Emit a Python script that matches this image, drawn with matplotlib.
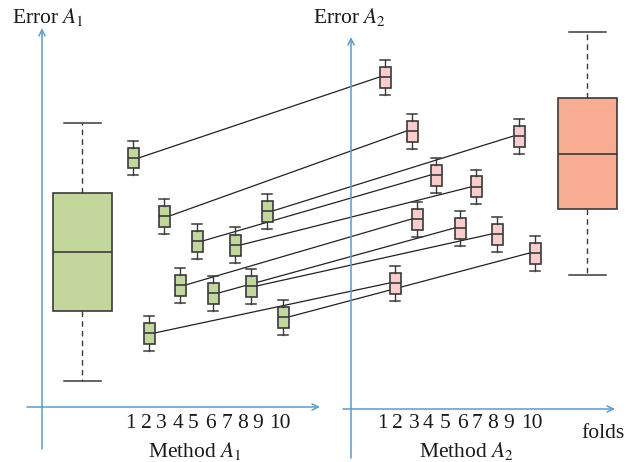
import matplotlib
matplotlib.use("Agg")
import matplotlib.pyplot as plt

plt.rcParams['font.family'] = ['Liberation Serif', 'DejaVu Serif']
plt.rcParams['mathtext.fontset'] = 'stix'

# ---------------- data ----------------
fold_labels = ['1', '2', '3', '4', '5', '6', '7', '8', '9', '10']
# x positions of the per-fold boxes (method A1 panel and method A2 panel)
a1_pos = [133, 149, 164, 180, 197, 213, 235, 251, 267, 283]
a2_pos = [385, 395, 412, 417, 436, 460, 476, 497, 519, 535]
# x positions of the fold tick labels
a1_label_pos = [130, 146, 161, 178, 193, 210, 227, 243, 258, 280]
a2_label_pos = [382, 397, 414, 428, 445, 462, 477, 493, 509, 532]
# per-fold median errors
a1_median = [2.49, 0.74, 1.91, 1.22, 1.66, 1.14, 1.62, 1.21, 1.96, 0.90]
a2_median = [3.30, 1.24, 2.76, 1.88, 2.32, 1.79, 2.20, 1.73, 2.71, 1.54]
# per-fold spread (half box height, half whisker span)
fold_box_half = 0.105
fold_whisker_half = 0.175
# aggregate boxplots over all folds
a1_summary = dict(whislo=0.26, q1=0.96, med=1.55, q3=2.14, whishi=2.84)
a2_summary = dict(whislo=1.32, q1=1.98, med=2.53, q3=3.09, whishi=3.75)
a1_summary_pos = 82
a2_summary_pos = 587

# ---------------- figure ----------------
W, H = 631, 462
fig = plt.figure(figsize=(W / 100, H / 100), dpi=100)
ax = fig.add_axes([0, 0, 1, 1])
ax.set_xlim(0, W)
ax.set_ylim((407 - H) / 100, 407 / 100)
ax.axis('off')


def py(ypix):
    return (407 - ypix) / 100


def fold_stats(meds):
    return [dict(med=m, q1=m - fold_box_half, q3=m + fold_box_half,
                 whislo=m - fold_whisker_half, whishi=m + fold_whisker_half,
                 fliers=[]) for m in meds]


edge = '#3a3a3a'
green = '#c3d69b'
pink_small = '#f9cdcc'
pink_big = '#f8ad92'
blue = '#5b9bd5'

# connecting lines
for x1, m1, x2, m2 in zip(a1_pos, a1_median, a2_pos, a2_median):
    ax.plot([x1 + 5.5, x2 - 5.5], [m1, m2], color='#222222', lw=0.9, zorder=2)


def draw(stats, pos, width, capw, face, dashed):
    ax.bxp(stats, positions=pos, widths=width, capwidths=capw,
           showfliers=False, patch_artist=True, manage_ticks=False,
           boxprops=dict(facecolor=face, edgecolor=edge, linewidth=1.2),
           medianprops=dict(color=edge, linewidth=1.2),
           whiskerprops=dict(color=edge, linewidth=1.0,
                             linestyle=(0, (4, 3)) if dashed else '-'),
           capprops=dict(color=edge, linewidth=1.1), zorder=3)


draw(fold_stats(a1_median), a1_pos, 11, 10, green, False)
draw(fold_stats(a2_median), a2_pos, 11, 10, pink_small, False)
draw([dict(a1_summary, fliers=[])], [a1_summary_pos], 59, 37, green, True)
draw([dict(a2_summary, fliers=[])], [a2_summary_pos], 59, 37, pink_big, True)

# axes arrows
arr = dict(arrowstyle='->,head_length=0.45,head_width=0.22', color=blue,
           lw=1.1, shrinkA=0, shrinkB=0)
ax.annotate('', xy=(42, py(28)), xytext=(42, py(449)), arrowprops=arr)
ax.annotate('', xy=(320, py(407)), xytext=(27, py(407)), arrowprops=arr)
ax.annotate('', xy=(351, py(37)), xytext=(351, py(458)), arrowprops=arr)
ax.annotate('', xy=(615, py(409)), xytext=(343, py(409)), arrowprops=arr)


def ftext(x, y, s, ha='center', size=15.5):
    fig.text(x / W, 1 - y / H, s, ha=ha, va='center', fontsize=size,
             color='#1a1a1a')


for xp, lab in zip(a1_label_pos, fold_labels):
    ftext(xp, 424, lab)
for xp, lab in zip(a2_label_pos, fold_labels):
    ftext(xp, 424, lab)

ftext(12, 17, 'Error $A_1$', ha='left')
ftext(313, 17, 'Error $A_2$', ha='left')
ftext(195, 451, 'Method $A_1$')
ftext(466, 451, 'Method $A_2$')
ftext(603, 434, 'folds')

fig.savefig('out.png', dpi=100)
